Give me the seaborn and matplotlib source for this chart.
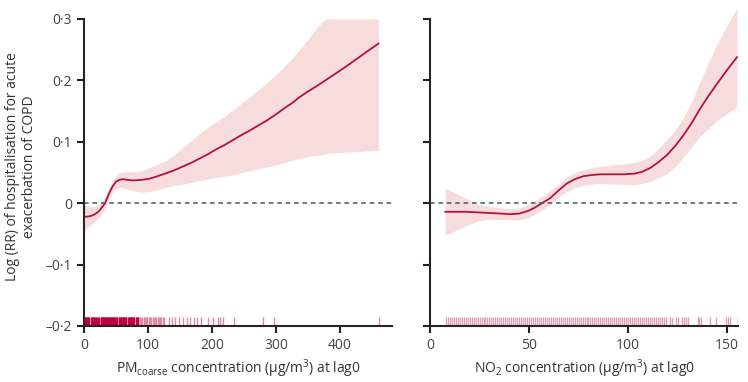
import numpy as np
import matplotlib
matplotlib.use("Agg")
import matplotlib.pyplot as plt
import seaborn as sns

# PM coarse panel (exposure-response curve)
pm_x = [0, 5, 10, 15, 20, 25, 30, 33, 36, 40, 45, 50, 55, 61, 68, 77, 90, 103, 115, 129, 142, 155, 168, 181,
        194, 207, 220, 233, 246, 260, 273, 286, 299, 312, 325, 337, 350, 364, 377, 390, 407, 425, 442, 460]
pm_y = [-0.022, -0.022, -0.021, -0.019, -0.016, -0.011, -0.004, 0.0, 0.008, 0.018, 0.028, 0.035, 0.038, 0.039,
        0.038, 0.037, 0.038, 0.04, 0.044, 0.049, 0.054, 0.06, 0.066, 0.073, 0.08, 0.088, 0.095, 0.103, 0.111,
        0.119, 0.127, 0.135, 0.144, 0.154, 0.163, 0.173, 0.182, 0.191, 0.2, 0.209, 0.221, 0.234, 0.247, 0.26]
pm_lo = [-0.045, -0.04, -0.036, -0.032, -0.027, -0.021, -0.013, -0.008, -0.001, 0.008, 0.018, 0.024, 0.026,
         0.025, 0.023, 0.02, 0.018, 0.019, 0.022, 0.026, 0.029, 0.031, 0.034, 0.037, 0.039, 0.042, 0.044,
         0.046, 0.05, 0.053, 0.056, 0.059, 0.062, 0.066, 0.07, 0.073, 0.076, 0.078, 0.08, 0.082, 0.083,
         0.084, 0.085, 0.086]
pm_hi = [-0.003, -0.004, -0.006, -0.006, -0.004, 0.0, 0.006, 0.01, 0.017, 0.027, 0.037, 0.045, 0.049, 0.051,
         0.051, 0.051, 0.053, 0.058, 0.063, 0.07, 0.08, 0.091, 0.102, 0.114, 0.124, 0.133, 0.142, 0.152,
         0.163, 0.174, 0.185, 0.196, 0.209, 0.222, 0.236, 0.251, 0.267, 0.286, 0.3, 0.3, 0.3, 0.3, 0.3, 0.3]

# daily observations (rug) for PM coarse
pm_rug_dense = [0, 1, 2, 3, 4, 5, 6, 7, 8, 11, 12, 13, 14, 15, 16, 17, 18, 21, 22, 23, 26, 27, 28, 29, 30,
                31, 32, 33, 34, 35, 36, 37, 38, 39, 40, 41, 42, 43, 44, 45, 46, 47, 48, 49, 50, 51, 54, 55,
                56, 57, 58, 59, 60, 61, 62, 63, 64, 65, 66, 69, 70, 71, 72, 73, 74, 75, 76, 77, 78, 81, 82,
                83, 84, 85]
pm_rug_light = [87, 89, 91, 93, 95, 97, 99, 101, 103, 105, 107, 109, 111, 113, 115, 117, 119, 121, 123, 125,
                132, 137, 142, 149, 155, 161, 166, 171, 177, 182, 193, 201, 209, 212, 217, 235, 279, 297, 460]

# NO2 panel
no2_x = [7.6, 12, 18, 24, 30, 36, 40, 45, 50, 53, 56.5, 60.6, 65, 69, 73, 77.5, 82, 86, 92, 98, 103, 107, 111,
         115, 119.5, 124, 128, 132, 136, 140, 145, 150, 155]
no2_y = [-0.014, -0.014, -0.014, -0.015, -0.016, -0.017, -0.018, -0.017, -0.012, -0.007, 0.0, 0.008, 0.021,
         0.032, 0.039, 0.044, 0.046, 0.047, 0.047, 0.047, 0.048, 0.051, 0.057, 0.066, 0.078, 0.094, 0.111,
         0.13, 0.152, 0.172, 0.195, 0.217, 0.238]
no2_lo = [-0.052, -0.046, -0.037, -0.029, -0.026, -0.027, -0.027, -0.027, -0.023, -0.018, -0.011, -0.002,
          0.01, 0.019, 0.025, 0.029, 0.031, 0.032, 0.031, 0.031, 0.03, 0.032, 0.035, 0.041, 0.048, 0.06, 0.075,
          0.091, 0.108, 0.12, 0.135, 0.146, 0.157]
no2_hi = [0.024, 0.018, 0.008, -0.001, -0.006, -0.008, -0.009, -0.008, -0.002, 0.004, 0.011, 0.02, 0.031,
          0.042, 0.05, 0.055, 0.058, 0.06, 0.062, 0.064, 0.066, 0.07, 0.076, 0.088, 0.103, 0.12, 0.14, 0.165,
          0.195, 0.225, 0.26, 0.29, 0.318]

no2_rug = [8, 9, 10, 11, 12, 13, 14, 15, 16, 17, 18, 19, 20, 21, 22, 23, 24, 25, 26, 27, 28, 29, 30,
           31, 32, 33, 34, 35, 36, 37, 38, 39, 40, 41, 42, 43, 44, 45, 46, 47, 48, 49, 50, 51, 52, 53,
           54, 55, 56, 57, 58, 59, 60, 61, 62, 63, 64, 65, 66, 67, 68, 69, 70, 71, 72, 73, 74, 75, 76,
           77, 78, 79, 80, 81, 82, 83, 84, 85, 86, 87, 88, 89, 90, 91, 92, 93, 94, 95, 96, 97, 98, 99,
           100, 101, 102, 103, 104, 105, 106, 107, 108, 109, 110, 111, 112, 113, 114, 115, 116, 117,
           118, 119, 121, 122, 124, 125, 127, 128, 129, 130, 135.2, 136, 136.9, 141.1, 144.3, 149.3,
           150.3, 151.5, 155.4]

yticks = [-0.2, -0.1, 0, 0.1, 0.2, 0.3]
ytick_labels = ["\u20130\u00b72", "\u20130\u00b71", "0", "0\u00b71", "0\u00b72", "0\u00b73"]

sns.set_style("ticks")
plt.rcParams["font.family"] = ["Open Sans", "DejaVu Sans"]

line_col = "#b3123f"
band_col = "#f6dcdc"

fig = plt.figure(figsize=(7.48, 3.82), dpi=100)
ax1 = fig.add_axes([0.1123, 0.1466, 0.4118, 0.836])
ax2 = fig.add_axes([0.5749, 0.1466, 0.4118, 0.836])

panels = [
    (ax1, pm_x, pm_y, pm_lo, pm_hi, 481, [0, 100, 200, 300, 400],
     "PM$_{\\mathregular{coarse}}$ concentration (\u00b5g/m$^{\\mathregular{3}}$) at lag0"),
    (ax2, no2_x, no2_y, no2_lo, no2_hi, 155.5, [0, 50, 100, 150],
     "NO$_{\\mathregular{2}}$ concentration (\u00b5g/m$^{\\mathregular{3}}$) at lag0"),
]

for ax, x, y, lo, hi, xmax, xt, xlab in panels:
    ax.fill_between(x, lo, hi, color=band_col, lw=0)
    sns.lineplot(x=x, y=y, ax=ax, color=line_col, lw=1.3)
    ax.axhline(0, color="#3e5c68", lw=1.1, ls=(0, (3, 2.5)))
    ax.set_xlim(0, xmax)
    ax.set_ylim(-0.2, 0.32)
    ax.set_xticks(xt)
    ax.set_xticklabels([str(v) for v in xt])
    ax.set_yticks(yticks)
    ax.spines["top"].set_visible(False)
    ax.spines["right"].set_visible(False)
    ax.spines["left"].set_bounds(-0.2, 0.3)
    ax.spines["left"].set_linewidth(1.5)
    ax.spines["bottom"].set_linewidth(1.5)
    ax.tick_params(width=1.5, length=5, labelsize=10, colors="#222222", labelcolor="#444444")
    ax.set_xlabel(xlab, fontsize=10, color="#333333", labelpad=3)

sns.rugplot(x=pm_rug_dense, ax=ax1, height=0.027, color="#c4003f", lw=1.0)
sns.rugplot(x=pm_rug_light, ax=ax1, height=0.027, color="#e0899f", lw=0.9)
sns.rugplot(x=no2_rug, ax=ax2, height=0.027, color="#e4a1b4", lw=0.9)

ax1.set_yticklabels(ytick_labels)
ax2.set_yticklabels([])
ax1.set_ylabel("Log (RR) of hospitalisation for acute\nexacerbation of COPD",
               fontsize=10, color="#333333", labelpad=6)
ax2.set_ylabel("")

fig.savefig("out.png", dpi=100)
